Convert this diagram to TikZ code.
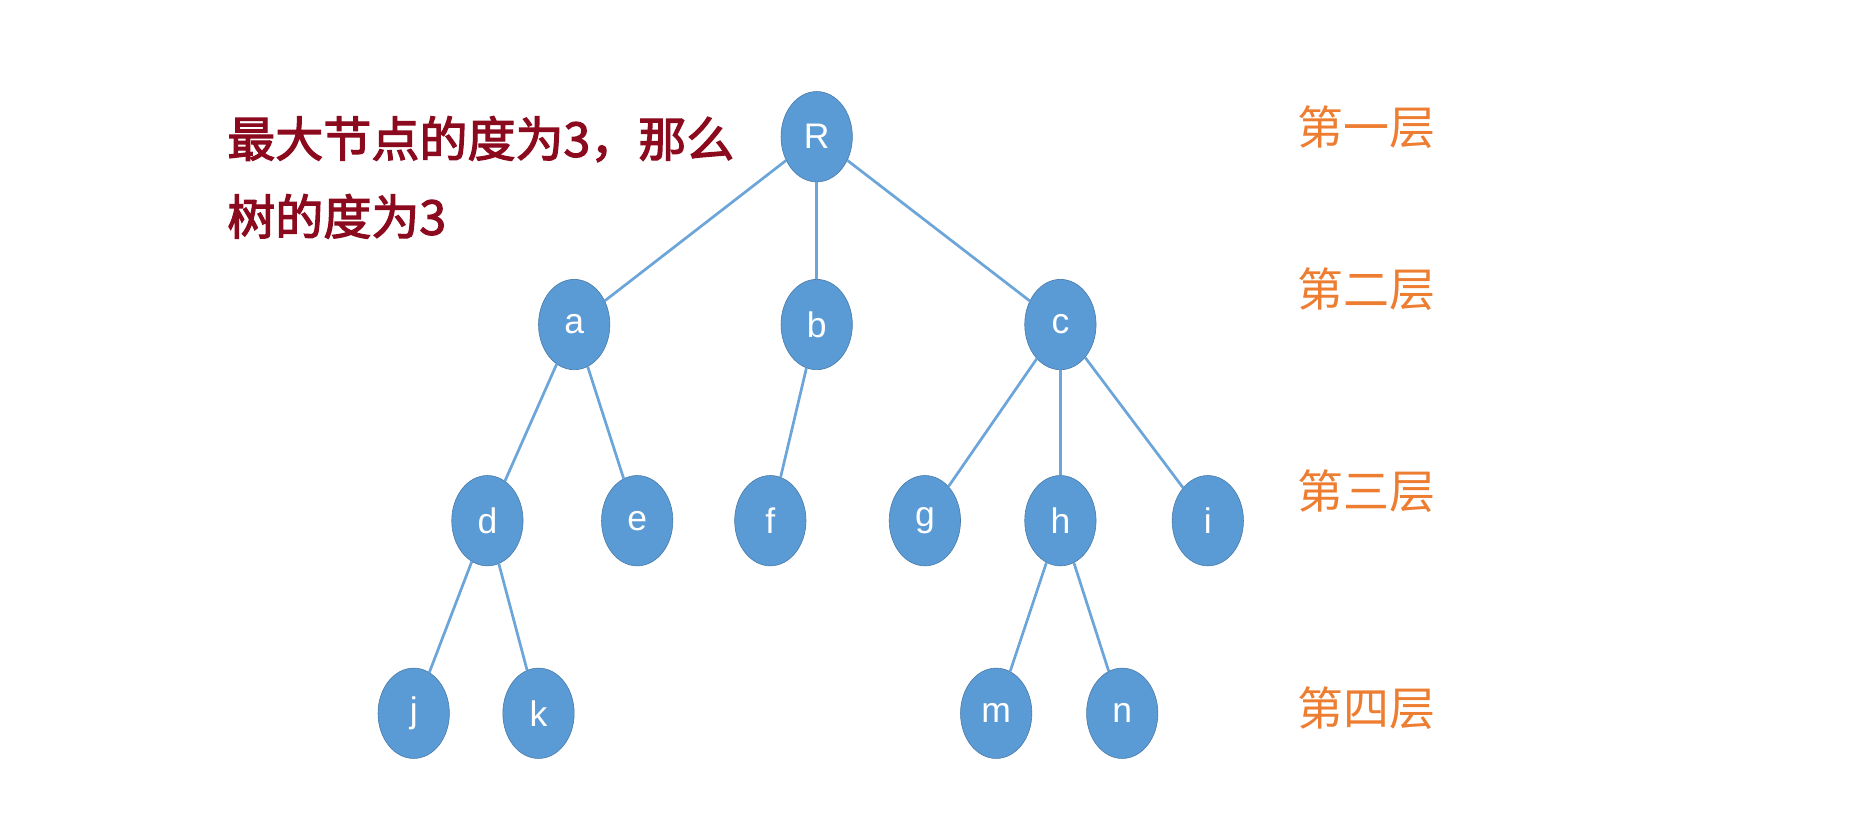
\documentclass[tikz,border=0pt]{standalone}
\usepackage{fontspec}
\setmainfont{Liberation Sans}
\newfontfamily\cjk{Noto Sans CJK SC}
\newfontfamily\cjkb[FakeBold=2.5]{Noto Sans CJK SC}
\definecolor{nodeblue}{HTML}{5B9BD5}
\definecolor{lab}{HTML}{ED7D31}
\definecolor{dred}{HTML}{8B0A1E}
\begin{document}
\begin{tikzpicture}[x=0.02cm,y=-0.02cm,
  tn/.style={ellipse,fill=nodeblue,draw=nodeblue!80!black,line width=0.3pt,minimum width=60\pgfxyx,minimum height=76\pgfxyx,inner sep=0pt,text=white,font=\fontsize{17}{17}\selectfont},
  ed/.style={draw=nodeblue!90,line width=1.3pt},
  lvl/.style={text=lab,font=\cjk\fontsize{22}{22}\selectfont,anchor=west},
  note/.style={text=dred,font=\cjkb\fontsize{23}{23}\selectfont,anchor=west}]
\usetikzlibrary{shapes.geometric}
\useasboundingbox (0,0) rectangle (1568,697);
\tikzset{tn/.append style={minimum width=1.2cm,minimum height=1.52cm}}
\node[tn] (R) at (687,115) {R};
\node[tn] (a) at (483,273) {a};
\node[tn] (b) at (687,273) {b};
\node[tn] (c) at (892,273) {c};
\node[tn] (d) at (410,438) {d};
\node[tn] (e) at (536,438) {e};
\node[tn] (f) at (648,438) {f};
\node[tn] (g) at (778,438) {g};
\node[tn] (h) at (892,438) {h};
\node[tn] (i) at (1016,438) {i};
\node[tn] (j) at (348,600) {j};
\node[tn] (k) at (453,600) {k};
\node[tn] (m) at (838,600) {m};
\node[tn] (n) at (944,600) {n};
\foreach \p/\c in {R/a,R/b,R/c,a/d,a/e,b/f,c/g,c/h,c/i,d/j,d/k,h/m,h/n}
  \draw[ed] (\p) -- (\c);
\node[lvl] (l1) at (1085,107) {第一层};
\node[lvl] (l2) at (1085,243) {第二层};
\node[lvl] (l3) at (1085,413) {第三层};
\node[lvl] (l4) at (1085,596) {第四层};
\node[note] (t1) at (185,117) {最大节点的度为3，那么};
\node[note] (t2) at (185,182) {树的度为3};
\end{tikzpicture}
\end{document}
